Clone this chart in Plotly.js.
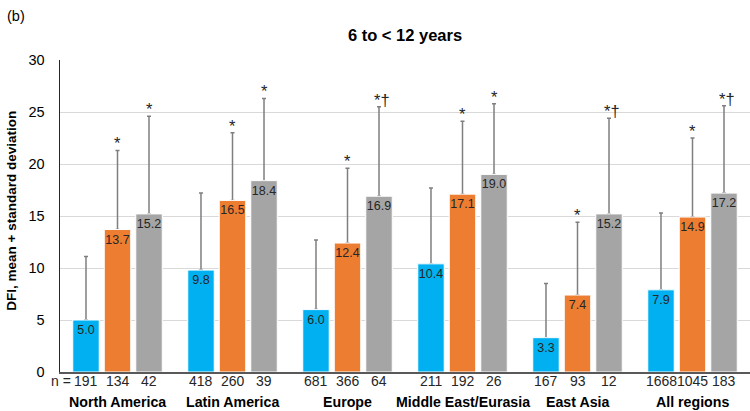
<!DOCTYPE html>
<html>
<head>
<meta charset="utf-8">
<script src="https://cdn.plot.ly/plotly-3.0.1.min.js"></script>
<style>html,body{margin:0;padding:0;background:#fff;}#chart{width:750px;height:411px;}</style>
</head>
<body>
<div id="chart"></div>
<script>
const regions = ['North America', 'Latin America', 'Europe', 'Middle East/Eurasia', 'East Asia', 'All regions'];
const meanBlue = [5.0, 9.8, 6.0, 10.4, 3.3, 7.9];
const meanOrange = [13.7, 16.5, 12.4, 17.1, 7.4, 14.9];
const meanGray = [15.2, 18.4, 16.9, 19.0, 15.2, 17.2];
const sdBlue = [6.1, 7.4, 6.7, 7.3, 5.2, 7.4];
const sdOrange = [7.6, 6.5, 7.2, 7.0, 7.0, 7.6];
const sdGray = [9.4, 7.9, 8.6, 6.8, 9.2, 8.4];
const nBlue = [191, 418, 681, 211, 167, 1668];
const nOrange = [134, 260, 366, 192, 93, 1045];
const nGray = [42, 39, 64, 26, 12, 183];
const markBlue = ['', '', '', '', '', ''];
const markOrange = ['*', '*', '*', '*', '*', '*'];
const markGray = ['*', '*', '*†', '*', '*†', '*†'];

const FONT = 'Arial, "Liberation Sans", sans-serif';
const series = [
  {key: 'a', mean: meanBlue, sd: sdBlue, n: nBlue, mark: markBlue, color: '#00B0F0', shift: -31.5},
  {key: 'b', mean: meanOrange, sd: sdOrange, n: nOrange, mark: markOrange, color: '#ED7D31', shift: 0},
  {key: 'c', mean: meanGray, sd: sdGray, n: nGray, mark: markGray, color: '#A5A5A5', shift: 31.5}
];

// error bars (drawn first)
const errTraces = series.map(s => ({
  type: 'bar',
  x: regions,
  y: s.mean,
  offsetgroup: s.key,
  marker: {color: s.color, line: {color: '#ffffff', width: 1}},
  error_y: {type: 'data', symmetric: false, array: s.sd, arrayminus: s.sd.map(() => 0),
            color: '#7f7f7f', thickness: 1.5, width: 2},
  hoverinfo: 'skip'
}));
// bars with labels drawn on top, hiding the lower end of each error bar
const barTraces = series.map(s => ({
  type: 'bar',
  x: regions,
  y: s.mean,
  offsetgroup: s.key,
  marker: {color: s.color, line: {color: '#ffffff', width: 1}},
  text: s.mean.map(v => v.toFixed(1)),
  textposition: 'inside',
  insidetextanchor: 'end',
  textangle: 0,
  constraintext: 'none',
  insidetextfont: {family: FONT, size: 12.5, color: '#262626'},
  hoverinfo: 'skip'
}));

const annotations = [];
series.forEach((s, si) => {
  regions.forEach((r, i) => {
    if (s.mark[i]) {
      annotations.push({x: r, xref: 'x', y: s.mean[i] + s.sd[i], yref: 'y', text: s.mark[i],
        showarrow: false, xshift: s.shift + (s.mark[i].length > 1 ? 3 : 0), yanchor: 'bottom', yshift: -4,
        font: {family: FONT, size: 16.5, color: '#262626'}});
    }
    annotations.push({x: r, xref: 'x', y: -0.0304, yref: 'paper', text: String(s.n[i]),
      showarrow: false, xshift: s.shift, yanchor: 'middle',
      font: {family: FONT, size: 14, color: '#262626'}});
  });
});
regions.forEach(r => {
  annotations.push({x: r, xref: 'x', y: -0.095, yref: 'paper', text: '<b>' + r + '</b>',
    showarrow: false, yanchor: 'middle', font: {family: FONT, size: 14.2, color: '#000'}});
});
annotations.push({x: (49 - 60) / 690, xref: 'paper', y: -0.0304, yref: 'paper', text: 'n =',
  showarrow: false, xanchor: 'left', yanchor: 'middle', font: {family: FONT, size: 14, color: '#262626'}});
annotations.push({x: (5 - 60) / 690, xref: 'paper', y: (372.5 - 16) / 312.5, yref: 'paper', text: '(b)',
  showarrow: false, xanchor: 'left', yanchor: 'middle', font: {family: FONT, size: 14.5, color: '#000'}});
annotations.push({x: (12 - 60) / 690, xref: 'paper', y: (372.5 - 211) / 312.5, yref: 'paper', text: '<b>DFI, mean + standard deviation</b>',
  textangle: -90, showarrow: false, xanchor: 'center', yanchor: 'middle', font: {family: FONT, size: 13.5, color: '#000'}});

const layout = {
  width: 750, height: 411,
  margin: {l: 60, r: 0, t: 60, b: 38.5},
  paper_bgcolor: '#fff', plot_bgcolor: '#fff',
  showlegend: false,
  barmode: 'group', bargap: 0.178, bargroupgap: 0.16,
  title: {text: '<b>6 to < 12 years</b>', x: 0.5, xref: 'paper', y: 1 - 35 / 411, yanchor: 'middle',
          font: {family: FONT, size: 16.5, color: '#000'}},
  xaxis: {type: 'category', showticklabels: false, ticks: '', showgrid: false,
          showline: true, linecolor: '#595959', linewidth: 1.5, zeroline: false, fixedrange: true},
  yaxis: {range: [0, 30], dtick: 5, tick0: 0, showgrid: true, gridcolor: '#d9d9d9', gridwidth: 1,
          showline: true, linecolor: '#262626', linewidth: 1.5, zeroline: false, ticks: '',
          ticklabelstandoff: 11, tickfont: {family: FONT, size: 14.5, color: '#000'}, fixedrange: true},
  annotations: annotations,
  font: {family: FONT}
};

Plotly.newPlot('chart', errTraces.concat(barTraces), layout, {displayModeBar: false, staticPlot: true});
</script>
</body>
</html>
